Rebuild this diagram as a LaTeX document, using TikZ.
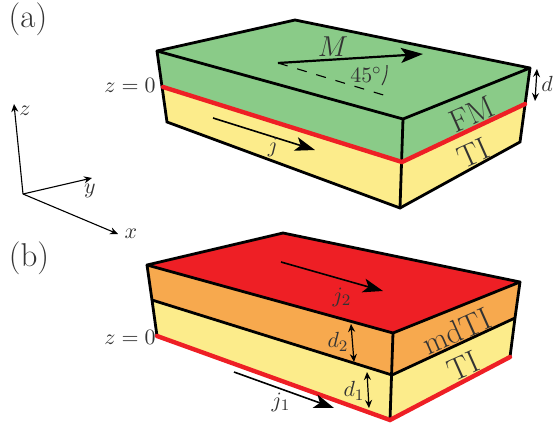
\documentclass[tikz,border=0pt]{standalone}
\usetikzlibrary{arrows.meta}
\definecolor{fmgreen}{HTML}{8ACB88}
\definecolor{tiyellow}{HTML}{FCEC8B}
\definecolor{tred}{HTML}{EE1F25}
\definecolor{mdorange}{HTML}{F7A94E}
\definecolor{txt}{HTML}{333333}
\tikzset{
  lab/.style={text=txt,inner sep=0pt,font=\fontsize{10.95}{13}\selectfont},
  big/.style={text=txt,inner sep=0pt,font=\fontsize{16.5}{18}\selectfont},
  layername/.style={text=txt,inner sep=0pt,rotate=24,font=\fontsize{15.8}{18}\selectfont},
  mid/.style={text=txt,inner sep=0pt,font=\fontsize{14.4}{16}\selectfont},
  face/.style={line width=1.4pt,line join=round},
  edge/.style={line width=1.4pt,line cap=round},
  redline/.style={tred,line width=2.2pt,line cap=round},
  axisarrow/.style={line width=0.55pt,-{Stealth[length=4pt,width=3.5pt]}},
  bigarrow/.style={line width=1.1pt,-{Stealth[length=11pt,width=7.5pt,inset=2.5pt]}},
  thinarrow/.style={line width=0.8pt,-{Stealth[length=10pt,width=7pt,inset=2.5pt]}},
  dimarrow/.style={line width=0.6pt,{Stealth[length=4pt,width=3.5pt]}-{Stealth[length=4pt,width=3.5pt]}},
}
\begin{document}
\begin{tikzpicture}[x=0.5pt,y=-0.5pt]
\useasboundingbox (0,0) rectangle (553,424);
% panel a corners
\coordinate (al) at (157,51);
\coordinate (ab) at (295,20);
\coordinate (ar) at (530,68);
\coordinate (af) at (403,119);
\coordinate (ml) at (163,87);
\coordinate (mf) at (402,162);
\coordinate (mr) at (525,104);
\coordinate (bl) at (167,122);
\coordinate (bf) at (400,208);
\coordinate (br) at (520,142);
\fill[tiyellow] (ml)--(mf)--(mr)--(br)--(bf)--(bl)--cycle;
\fill[fmgreen] (al)--(ab)--(ar)--(mr)--(mf)--(ml)--cycle;
\draw[face] (al)--(ab)--(ar)--(af)--cycle;
\draw[edge] (al)--(bl)--(bf)--(br)--(ar);
\draw[edge] (af)--(bf);
\draw[redline] (ml)--(mf)--(mr);
% panel a arrows
\coordinate (ms) at (278,63);
\coordinate (me) at (423,54);
\coordinate (de) at (390,97);
\coordinate (aa) at (387,65);
\coordinate (ab2) at (382,85);
\draw[line width=0.55pt,dash pattern=on 5pt off 5pt] (ms)--(de);
\draw[bigarrow] (ms)--(me);
\draw[line width=0.55pt,txt] (aa) to[bend left=15] (ab2);
\coordinate (js) at (213,118);
\coordinate (je) at (315,150);
\draw[thinarrow] (js)--(je);
\coordinate (ds) at (537,69);
\coordinate (dt) at (535,101);
\draw[dimarrow] (ds)--(dt);
\node[mid] (nM) at (333,47) {$M$};
\node[lab] (n45) at (366,75) {$45^{\circ}$};
\node[lab] (nj) at (273,147) {$j$};
\node[lab] (nd) at (547,84) {$d$};
\node[lab] (nza) at (130,85) {$z=0$};
\node[layername] (nfm) at (472,114) {FM};
\node[layername] (nti) at (473,153) {TI};
% panel b corners
\coordinate (cl) at (147,265);
\coordinate (cb) at (283,233);
\coordinate (cr) at (520,282);
\coordinate (cf) at (393,333);
\coordinate (nl) at (152,300);
\coordinate (nf) at (392,375);
\coordinate (nr) at (515,318);
\coordinate (el) at (157,336);
\coordinate (ef) at (390,420);
\coordinate (er) at (510,357);
\fill[tiyellow] (nl)--(nf)--(nr)--(er)--(ef)--(el)--cycle;
\fill[mdorange] (cl)--(cf)--(cr)--(nr)--(nf)--(nl)--cycle;
\fill[tred] (cl)--(cb)--(cr)--(cf)--cycle;
\draw[face] (cl)--(cb)--(cr)--(cf)--cycle;
\draw[edge] (cl)--(nl)--(el);
\draw[edge] (cr)--(nr)--(er);
\draw[edge] (cf)--(ef);
\draw[edge] (nl)--(nf)--(nr);
\draw[redline] (el)--(ef)--(er);
% panel b arrows
\coordinate (j2s) at (281,262);
\coordinate (j2e) at (383,291);
\draw[thinarrow] (j2s)--(j2e);
\coordinate (j1s) at (234,372);
\coordinate (j1e) at (334,408);
\draw[thinarrow] (j1s)--(j1e);
\coordinate (d2s) at (351,324);
\coordinate (d2e) at (354,362);
\draw[dimarrow] (d2s)--(d2e);
\coordinate (d1s) at (367,372);
\coordinate (d1e) at (369,408);
\draw[dimarrow] (d1s)--(d1e);
\node[lab] (nj2) at (342,297) {$j_2$};
\node[lab] (nj1) at (281,402) {$j_1$};
\node[lab] (nd2) at (338,342) {$d_2$};
\node[lab] (nd1) at (354,391) {$d_1$};
\node[lab] (nzb) at (130,337) {$z=0$};
\node[layername] (nmd) at (457,331) {mdTI};
\node[layername] (nti2) at (463,366) {TI};
% axes
\coordinate (o) at (23,194);
\coordinate (zt) at (14,104);
\coordinate (yt) at (92,178);
\coordinate (xt) at (118,234);
\draw[axisarrow] (o)--(zt);
\draw[axisarrow] (o)--(yt);
\draw[axisarrow] (o)--(xt);
\node[lab] (nz) at (25,111) {$z$};
\node[lab] (ny) at (90,191) {$y$};
\node[lab] (nx) at (131,234) {$x$};
\node[big] (na) at (28,19) {(a)};
\node[big] (nb) at (29,258) {(b)};
\end{tikzpicture}
\end{document}
